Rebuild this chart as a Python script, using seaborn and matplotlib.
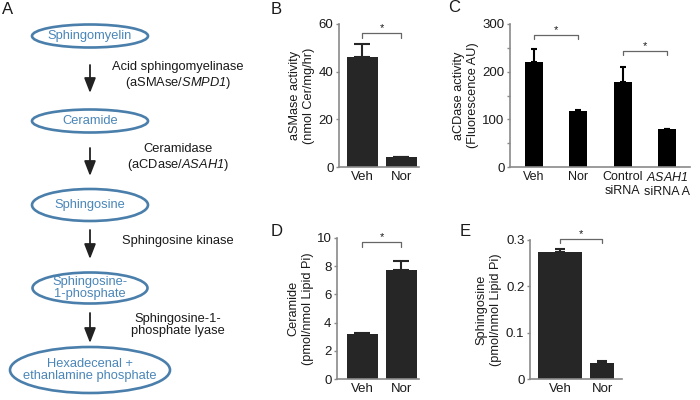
import matplotlib
matplotlib.use("Agg")
import matplotlib.pyplot as plt
from matplotlib.patches import Ellipse
import seaborn as sns
import pandas as pd

# ---------------- data ----------------
b_groups = ["Veh", "Nor"]
b_values = [46.0, 4.0]
b_errors = [5.5, 0.3]

c_groups = ["Veh", "Nor", "Control siRNA", "ASAH1 siRNA A"]
c_ticklabels = ["Veh", "Nor", "Control\nsiRNA", "$\\it{ASAH1}$\nsiRNA A"]
c_values = [220.0, 118.0, 178.0, 79.0]
c_errors = [28.0, 2.0, 32.0, 1.5]

d_groups = ["Veh", "Nor"]
d_values = [3.2, 7.75]
d_errors = [0.05, 0.6]

e_groups = ["Veh", "Nor"]
e_values = [0.275, 0.035]
e_errors = [0.005, 0.003]

pathway_nodes = ["Sphingomyelin", "Ceramide", "Sphingosine",
                 "Sphingosine-\n1-phosphate", "Hexadecenal +\nethanlamine phosphate"]
pathway_enzymes = ["Acid sphingomyelinase\n(aSMAse/$\\it{SMPD1}$)",
                   "Ceramidase\n(aCDase/$\\it{ASAH1}$)",
                   "Sphingosine kinase",
                   "Sphingosine-1-\nphosphate lyase"]

# ---------------- style ----------------
sns.set_style("ticks")
plt.rcParams["font.family"] = ["Liberation Sans", "DejaVu Sans"]
plt.rcParams["mathtext.fontset"] = "custom"
plt.rcParams["mathtext.rm"] = "Liberation Sans:italic"
plt.rcParams["mathtext.it"] = "Liberation Sans:italic"

SPINE = "#8a8a8a"
TXT = "#1a1a1a"
BLUE_E = "#4a7eab"
BLUE_T = "#4a86b8"

fig = plt.figure(figsize=(7, 4), dpi=100)

def rect(l, t, r, b):
    return [l / 700, 1 - b / 400, (r - l) / 700, (b - t) / 400]

# overlay for diagram and panel letters
ov = fig.add_axes([0, 0, 1, 1])
ov.set_xlim(0, 700)
ov.set_ylim(400, 0)
ov.axis("off")

# panel A diagram (layout in pixel space)
node_geom = [(90, 36, 116, 23), (90, 121, 116, 23), (90, 205, 116, 32),
             (90, 288, 115, 31), (90, 370, 160, 46)]
for name, (cx, cy, w, h) in zip(pathway_nodes, node_geom):
    ov.add_patch(Ellipse((cx, cy), w, h, fill=False, edgecolor=BLUE_E, lw=1.9))
    ov.text(cx, cy, name, ha="center", va="center", color=BLUE_T,
            fontsize=9.3, linespacing=1.05)

arrow_geom = [(65, 93), (148, 176), (230, 259), (313, 343)]
for y0, y1 in arrow_geom:
    ov.annotate("", xy=(90, y1), xytext=(90, y0),
                arrowprops=dict(arrowstyle="-|>,head_length=0.9,head_width=0.35",
                                color="#222222", lw=1.3, shrinkA=0, shrinkB=0))

enzyme_y = [76, 158, 241, 325]
for txt, y in zip(pathway_enzymes, enzyme_y):
    ov.text(178, y, txt, ha="center", va="center", color=TXT,
            fontsize=9.3, linespacing=1.1)

for letter, x, y in [("A", 8, 10), ("B", 276, 10), ("C", 454, 8),
                     ("D", 277, 231), ("E", 465, 231)]:
    ov.text(x, y, letter, ha="center", va="center", fontsize=12, color=TXT)


def bar_panel(r, groups, values, errors, color, width, xlim, ylim, yticks,
              yticklabels, ylabel, labelpad, capsize, brackets, xticklabels=None,
              minor=None, widths=None, xlabelsize=9.5):
    ax = fig.add_axes(rect(*r))
    df = pd.DataFrame({"group": groups, "value": values})
    sns.barplot(data=df, x="group", y="value", ax=ax, color=color,
                width=width, errorbar=None, saturation=1, edgecolor=color,
                linewidth=0)
    xs = list(range(len(groups)))
    if widths is not None:
        for p, w in zip(ax.patches, widths):
            c = p.get_x() + p.get_width() / 2
            p.set_x(c - w / 2)
            p.set_width(w)
    ax.errorbar(xs, values, yerr=[[0] * len(errors), errors], fmt="none",
                ecolor=color, elinewidth=1.5, capsize=capsize, capthick=1.5,
                zorder=3)
    ax.set_xlim(*xlim)
    ax.set_ylim(*ylim)
    ax.set_yticks(yticks)
    ax.set_yticklabels(yticklabels)
    if minor is not None:
        ax.set_yticks(minor, minor=True)
    ax.set_xticks(xs)
    ax.set_xticklabels(xticklabels if xticklabels else groups)
    ax.set_xlabel("")
    ax.set_ylabel(ylabel, fontsize=9.2, color=TXT, labelpad=labelpad,
                  linespacing=1.3)
    for s in ["top", "right"]:
        ax.spines[s].set_visible(False)
    for s in ["left", "bottom"]:
        ax.spines[s].set_color(SPINE)
        ax.spines[s].set_linewidth(1.2)
    ax.tick_params(axis="y", which="both", length=2.5, width=1, color=SPINE,
                   labelsize=9.5, labelcolor=TXT, pad=1.5)
    ax.tick_params(axis="x", length=0, labelsize=xlabelsize, labelcolor=TXT, pad=3)
    ax.patch.set_alpha(0)
    for i, j, y, drop in brackets:
        ax.plot([i, i, j, j], [y - drop, y, y, y - drop], color="#666666",
                lw=0.9, clip_on=False)
        ax.text((i + j) / 2, y, "*", ha="center", va="bottom", fontsize=8,
                color=TXT, clip_on=False)
    return ax

bar_panel((339, 24, 419, 167), b_groups, b_values, b_errors, "#262626", 0.8,
          (-0.6, 1.45), (0, 60), [0, 20, 40, 60], ["0", "20", "40", "60"],
          "aSMase activity\n(nmol Cer/mg/hr)", 2.5, 5.5,
          [(0, 1, 56.2, 2.0)])

bar_panel((510, 24, 690, 167), c_groups, c_values, c_errors, "#000000", 0.41,
          (-0.54, 3.52), (0, 300), [0, 100, 200, 300], ["0", "100", "200", "300"],
          "aCDase activity\n(Fluorescence AU)", 2.0, 2.5,
          [(0, 1, 277, 9), (2, 3, 243, 9)], xticklabels=c_ticklabels,
          minor=[50, 150, 250], xlabelsize=9.0)

bar_panel((337, 238, 419, 379), d_groups, d_values, d_errors, "#262626", 0.8,
          (-0.65, 1.45), (0, 10), [0, 2, 4, 6, 8, 10],
          ["0", "2", "4", "6", "8", "10"],
          "Ceramide\n(pmol/nmol Lipid Pi)", 1.5, 5.5,
          [(0, 1, 9.7, 0.33)])

bar_panel((530, 240, 622, 379), e_groups, e_values, e_errors, "#262626", 0.8,
          (-0.714, 1.476), (0, 0.3), [0, 0.1, 0.2, 0.3],
          ["0", "0.1", "0.2", "0.3"],
          "Sphingosine\n(pmol/nmol Lipid Pi)", 2.5, 3.5,
          [(0, 1, 0.302, 0.008)], widths=[1.05, 0.57])

fig.savefig("out.png", dpi=100)
